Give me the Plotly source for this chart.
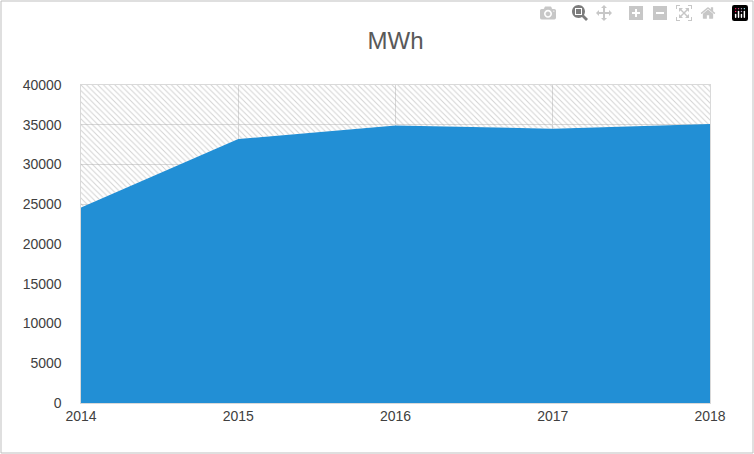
import plotly.graph_objects as go

years = [2014, 2015, 2016, 2017, 2018]
mwh = [24600, 33200, 34900, 34500, 35100]
axis_top = 40000

fig = go.Figure()

fig.add_trace(go.Scatter(
    x=years, y=mwh, mode='lines', line=dict(width=0, color='#228FD5'),
    fill='tozeroy', fillcolor='#228FD5', hoverinfo='skip'
))

# hatched band above the series
fig.add_trace(go.Scatter(
    x=years, y=[axis_top] * len(years), mode='lines', line=dict(width=0),
    fill='tonexty', fillcolor='rgba(0,0,0,0)',
    fillpattern=dict(shape='\\', size=4, solidity=0.25, fgcolor='#A6A6A6',
                     bgcolor='rgba(0,0,0,0)', fillmode='overlay'),
    hoverinfo='skip'
))

L, R, T, B = 81, 44, 85, 51
pw, ph = 754 - L - R, 454 - T - B
fig.add_shape(type='rect', xref='paper', yref='paper',
              x0=-(L - 1) / pw, x1=1 + (R - 1) / pw, y0=-(B - 1) / ph, y1=1 + (T - 1) / ph,
              line=dict(color='#BFBFBF', width=1))

fig.update_layout(
    width=754, height=454,
    margin=dict(l=L, r=R, t=T, b=B),
    paper_bgcolor='white', plot_bgcolor='white',
    showlegend=False,
    title=dict(text='MWh', x=0.5, xref='paper', y=0.91, yanchor='middle',
               font=dict(family='Liberation Sans, Arial', size=24, color='#595959')),
    font=dict(family='Liberation Sans, Arial', size=14, color='#404040'),
    xaxis=dict(range=[2014, 2018], tickvals=years, showgrid=True, gridcolor='#D9D9D9',
               zeroline=False, showline=True, linecolor='#D9D9D9', mirror=True, ticks=''),
    yaxis=dict(range=[0, axis_top], dtick=5000, tickformat='d', showgrid=True,
               gridcolor='#D9D9D9', zeroline=False, showline=True, linecolor='#D9D9D9',
               mirror=True, ticks='', ticksuffix='    '),
)

fig.write_html("out.html", post_script="document.body.style.margin='0';")
